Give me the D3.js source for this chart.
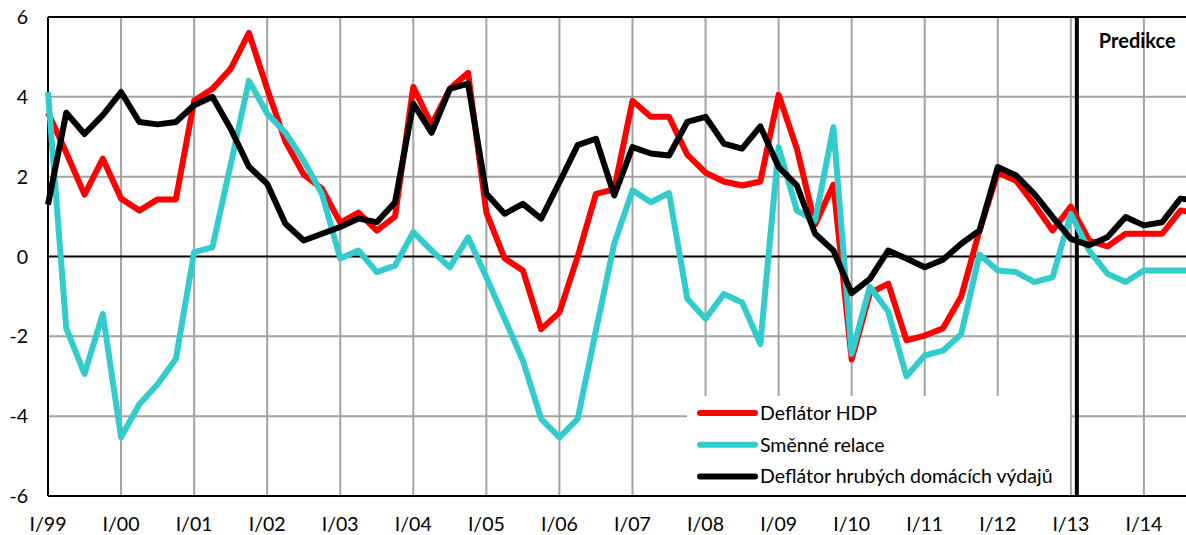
<!DOCTYPE html>
<html>
<head>
<meta charset="utf-8">
<script src="https://cdn.jsdelivr.net/npm/d3@7"></script>
<style>
  body { margin: 0; background: #fff; }
  svg { display: block; font-family: Lato, "Open Sans", sans-serif; }
</style>
</head>
<body>
<svg id="chart" width="1186" height="535"></svg>
<script>
// quarterly data I/99 .. IV/14
const years = ["99", "00", "01", "02", "03", "04", "05", "06", "07", "08", "09", "10", "11", "12", "13", "14"];
const romans = ["I", "II", "III", "IV"];
const categories = years.flatMap(y => romans.map(r => `${r}/${y}`));

const yTicks = [-6, -4, -2, 0, 2, 4, 6];

const deflatorHDP = [
  3.6, 2.6, 1.55, 2.45, 1.45, 1.15, 1.43, 1.43,
  3.9, 4.2, 4.7, 5.6, 4.2, 2.88, 2.05, 1.7,
  0.85, 1.1, 0.65, 1.0, 4.25, 3.3, 4.2, 4.6,
  1.1, -0.05, -0.35, -1.82, -1.4, 0.0, 1.57, 1.68,
  3.9, 3.5, 3.5, 2.55, 2.1, 1.88, 1.78, 1.88,
  4.05, 2.7, 0.8, 1.8, -2.58, -0.92, -0.68, -2.1,
  -1.98, -1.8, -1.0, 0.65, 2.1, 1.9, 1.3, 0.65,
  1.25, 0.4, 0.25, 0.57, 0.57, 0.57, 1.15, 1.1
];
const smenneRelace = [
  4.12, -1.8, -2.94, -1.44, -4.53, -3.7, -3.2, -2.57,
  0.11, 0.23, 2.3, 4.4, 3.58, 3.1, 2.4, 1.57,
  -0.05, 0.15, -0.39, -0.23, 0.61, 0.15, -0.27, 0.48,
  -0.52, -1.56, -2.61, -4.07, -4.53, -4.07, -1.85, 0.32,
  1.66, 1.36, 1.59, -1.06, -1.56, -0.94, -1.15, -2.19,
  2.74, 1.15, 0.9, 3.24, -2.44, -0.76, -1.38, -3.0,
  -2.48, -2.36, -1.94, 0.05, -0.35, -0.39, -0.64, -0.52,
  1.07, 0.15, -0.43, -0.64, -0.35, -0.35, -0.35, -0.35
];
const deflatorHDV = [
  1.3, 3.6, 3.07, 3.54, 4.12, 3.37, 3.31, 3.37,
  3.79, 4.0, 3.2, 2.25, 1.82, 0.82, 0.4, 0.57,
  0.74, 0.95, 0.86, 1.36, 3.83, 3.1, 4.2, 4.33,
  1.57, 1.07, 1.32, 0.95, 1.86, 2.79, 2.95, 1.53,
  2.74, 2.58, 2.53, 3.37, 3.5, 2.83, 2.7, 3.26,
  2.24, 1.78, 0.57, 0.15, -0.92, -0.56, 0.15, -0.05,
  -0.27, -0.08, 0.32, 0.65, 2.24, 2.03, 1.57, 0.99,
  0.44, 0.28, 0.48, 0.99, 0.78, 0.86, 1.45, 1.4
];

const series = [
  { name: "Deflátor HDP", values: deflatorHDP, color: "#ff0000" },
  { name: "Směnné relace", values: smenneRelace, color: "#33cccc" },
  { name: "Deflátor hrubých domácích výdajů", values: deflatorHDV, color: "#000000" }
];

const forecastStart = "I/13";

const svg = d3.select("#chart");
const plotLeft = 48, plotTop = 17, plotBottom = 496;
const step = 18.265;

const x = d3.scaleLinear()
  .domain([0, categories.length])
  .range([plotLeft, plotLeft + categories.length * step]);
const y = d3.scaleLinear().domain([-6, 6]).range([plotBottom, plotTop]);
const plotRight = x(categories.length);

// gridlines
const grid = svg.append("g");
grid.selectAll("line.h")
  .data(yTicks.filter(v => v !== 0 && v !== -6 && v !== 6))
  .enter().append("line")
  .attr("x1", plotLeft).attr("x2", plotRight)
  .attr("y1", d => y(d)).attr("y2", d => y(d))
  .attr("stroke", "#a3a3a3").attr("stroke-width", 2);

const yearIdx = d3.range(4, categories.length, 4);
grid.selectAll("line.v")
  .data(yearIdx)
  .enter().append("line")
  .attr("x1", d => x(d)).attr("x2", d => x(d))
  .attr("y1", plotTop).attr("y2", plotBottom)
  .attr("stroke", "#a3a3a3").attr("stroke-width", 2);

// frame and axes
[6, 0, -6].forEach(v => {
  svg.append("line").attr("x1", plotLeft).attr("x2", plotRight)
    .attr("y1", y(v)).attr("y2", y(v)).attr("stroke", "#000").attr("stroke-width", 2);
});
svg.append("line").attr("x1", plotLeft).attr("x2", plotLeft)
  .attr("y1", plotTop).attr("y2", plotBottom).attr("stroke", "#000").attr("stroke-width", 2);

// forecast divider
const fx = x(categories.indexOf(forecastStart)) + 6;
svg.append("line").attr("x1", fx).attr("x2", fx)
  .attr("y1", plotTop).attr("y2", plotBottom).attr("stroke", "#000").attr("stroke-width", 4);
svg.append("text").attr("x", fx + 22).attr("y", 48)
  .attr("font-size", 20).attr("font-weight", "bold").text("Predikce");

// y labels
svg.append("g").selectAll("text")
  .data(yTicks)
  .enter().append("text")
  .attr("x", 28).attr("y", d => y(d) + 7)
  .attr("text-anchor", "end").attr("font-size", 19.5)
  .text(d => d);

// x labels
svg.append("g").selectAll("text")
  .data(d3.range(0, categories.length, 4))
  .enter().append("text")
  .attr("x", d => x(d)).attr("y", 531)
  .attr("text-anchor", "middle").attr("font-size", 19.5)
  .text(d => categories[d]);

// series
const line = d3.line().x((d, i) => x(i)).y(d => y(d));
svg.append("g").selectAll("path")
  .data(series)
  .enter().append("path")
  .attr("d", d => line(d.values))
  .attr("fill", "none")
  .attr("stroke", d => d.color)
  .attr("stroke-width", 6)
  .attr("stroke-linejoin", "round");

// legend
const lg = svg.append("g");
lg.append("rect").attr("x", 687).attr("y", 396).attr("width", 383).attr("height", 99)
  .attr("fill", "#fff");
const rows = lg.selectAll("g").data(series).enter().append("g")
  .attr("transform", (d, i) => `translate(700,${413 + i * 31.7})`);
rows.append("line").attr("x1", 0).attr("x2", 55)
  .attr("stroke", d => d.color).attr("stroke-width", 6).attr("stroke-linecap", "round");
rows.append("text").attr("x", 60).attr("y", 7).attr("font-size", 19.5).text(d => d.name);
</script>
</body>
</html>
